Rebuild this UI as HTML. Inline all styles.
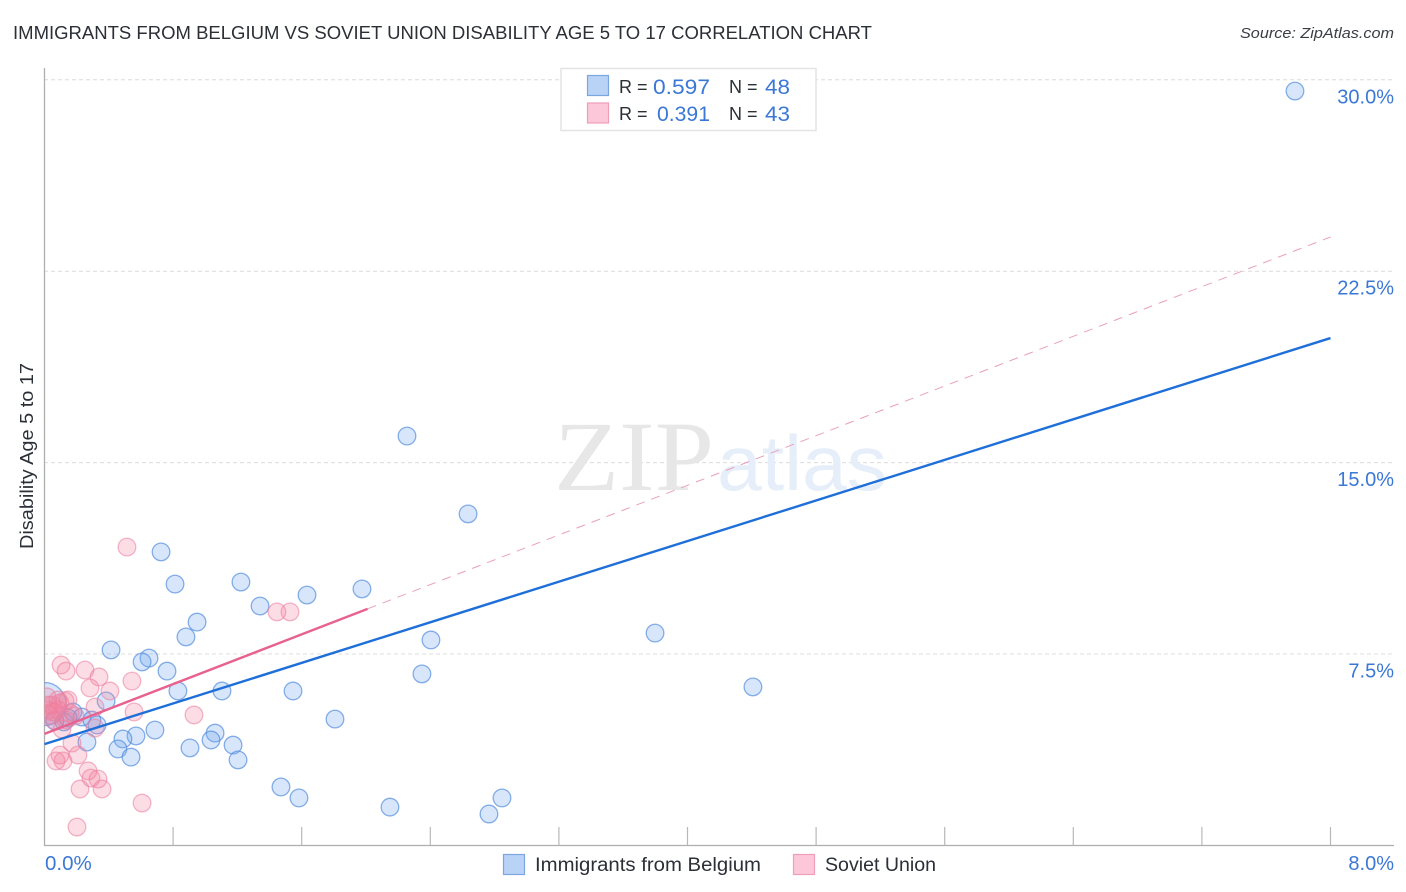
<!DOCTYPE html>
<html lang="en">
<head>
<meta charset="utf-8">
<title>Immigrants from Belgium vs Soviet Union Disability Age 5 to 17 Correlation Chart</title>
<style>
html,body{margin:0;padding:0;background:#fff;width:1406px;height:892px;overflow:hidden}
svg{display:block}
text{font-family:"Liberation Sans",sans-serif}
.blue{fill:#3b78d6}
.dark{fill:#2b2f36}
</style>
</head>
<body>
<svg id="chart" xmlns="http://www.w3.org/2000/svg" width="1406" height="892" viewBox="0 0 1406 892">
  <defs>
    <clipPath id="plot-clip"><rect x="44.5" y="60" width="1350" height="786"/></clipPath>
  </defs>
  <rect width="1406" height="892" fill="#fff"/>
  <text class="dark" x="13" y="39" font-size="18.5" textLength="859" lengthAdjust="spacingAndGlyphs">IMMIGRANTS FROM BELGIUM VS SOVIET UNION DISABILITY AGE 5 TO 17 CORRELATION CHART</text>
  <text x="1394" y="38" font-size="15" font-style="italic" text-anchor="end" fill="#3a3e45" textLength="154" lengthAdjust="spacingAndGlyphs">Source: ZipAtlas.com</text>

  <g id="grid"></g>

  <g>
    <text x="554" y="490" font-size="100" textLength="160" lengthAdjust="spacingAndGlyphs" style="font-family:'Liberation Serif',serif" fill="#e7e7e7">ZIP</text>
    <text x="717" y="490" font-size="78" textLength="170" lengthAdjust="spacingAndGlyphs" fill="#e6eefa">atlas</text>
  </g>

  <g id="axes"></g>
  <g id="blue-points" clip-path="url(#plot-clip)"></g>
  <g id="pink-points" clip-path="url(#plot-clip)"></g>
  <g id="trends"></g>
  <g id="tick-labels"></g>

  <text class="dark" transform="translate(33,549) rotate(-90)" font-size="18" textLength="186" lengthAdjust="spacingAndGlyphs">Disability Age 5 to 17</text>

  <g>
    <rect x="561" y="68.5" width="255" height="62" fill="#fff" stroke="#e4e4e4" stroke-width="1.5"/>
    <rect x="587.5" y="75.5" width="21" height="20" fill="#b9d3f7" stroke="#7ba6e0" stroke-width="1.2"/>
    <rect x="587.5" y="103" width="21" height="20" fill="#fcc8d9" stroke="#f09db8" stroke-width="1.2"/>
    <text class="dark" x="619" y="93" font-size="18">R =</text>
    <text class="blue" x="653" y="94" font-size="21" textLength="57" lengthAdjust="spacingAndGlyphs">0.597</text>
    <text class="dark" x="729" y="93" font-size="18">N =</text>
    <text class="blue" x="765" y="94" font-size="21" textLength="25" lengthAdjust="spacingAndGlyphs">48</text>
    <text class="dark" x="619" y="120" font-size="18">R =</text>
    <text class="blue" x="657" y="121" font-size="21" textLength="53" lengthAdjust="spacingAndGlyphs">0.391</text>
    <text class="dark" x="729" y="120" font-size="18">N =</text>
    <text class="blue" x="765" y="121" font-size="21" textLength="25" lengthAdjust="spacingAndGlyphs">43</text>
  </g>

  <g>
    <rect x="503.5" y="854.5" width="21" height="20" fill="#b9d3f7" stroke="#7ba6e0" stroke-width="1.2"/>
    <text class="dark" x="535" y="871" font-size="19" textLength="226" lengthAdjust="spacingAndGlyphs">Immigrants from Belgium</text>
    <rect x="793.5" y="854.5" width="21" height="20" fill="#fcc8d9" stroke="#f09db8" stroke-width="1.2"/>
    <text class="dark" x="825" y="871" font-size="19" textLength="111" lengthAdjust="spacingAndGlyphs">Soviet Union</text>
  </g>
</svg>
<script>
const yTicks = [7.5, 15, 22.5, 30];
const yTickLabels = ["7.5%", "15.0%", "22.5%", "30.0%"];
const xTicks = [0, 0.8, 1.6, 2.4, 3.2, 4, 4.8, 5.6, 6.4, 7.2, 8];
const xEndLabels = ["0.0%", "8.0%"];

const belgiumX = [7.779,2.255,2.635,0.725,0.812,1.222,1.341,1.633,1.975,0.949,0.880,0.414,0.650,0.607,0.762,2.404,2.348,3.798,4.407,0.830,1.104,1.546,0.383,1.807,0.687,0.569,0.488,1.061,1.036,0.327,0.457,0.905,1.173,0.538,1.204,0.264,1.471,1.583,2.149,2.846,2.765,0.177,0.233,0.295,0.121,0.065,0.146,0.0];
const belgiumY = [29.56,16.04,12.99,11.50,10.24,10.32,9.38,9.81,10.05,8.75,8.17,7.66,7.34,7.19,6.83,8.05,6.72,8.32,6.21,6.05,6.05,6.05,5.66,4.95,4.52,4.29,4.17,4.40,4.13,4.72,3.78,3.82,3.93,3.46,3.35,4.05,2.29,1.86,1.50,1.86,1.23,5.23,5.03,4.91,4.84,4.87,4.99,5.54];
const belgiumWeight = [1,1,1,1,1,1,1,1,1,1,1,1,1,1,1,1,1,1,1,1,1,1,1,1,1,1,1,1,1,1,1,1,1,1,1,1,1,1,1,1,1,1,1,1,1,1,1,6];

const sovietX = [0.513,1.446,1.527,0.103,0.134,0.252,0.339,0.283,0.407,0.544,0.314,0.557,0.930,0.171,0.096,0.208,0.072,0.115,0.271,0.289,0.333,0.221,0.358,0.607,0.202,0.016,0.022,0.034,0.047,0.065,0.084,0.096,0.128,0.146,0.059,0.109,0.159,0.190,0.314,0.022,0.047,0.084,0.134];
const sovietY = [11.69,9.15,9.15,7.07,6.83,6.87,6.60,6.17,6.05,6.44,5.42,5.23,5.11,4.01,3.54,3.54,3.31,3.31,2.92,2.64,2.60,2.21,2.21,1.66,0.72,5.82,5.31,5.11,5.50,5.23,5.70,5.58,5.66,5.70,4.91,4.56,5.19,5.07,4.60,5.50,5.23,5.31,4.91];

const belgiumTrendX = [0, 8];
const belgiumTrendY = [3.97, 19.88];
const sovietTrendX = [0, 2.01];
const sovietTrendY = [4.37, 9.27];
const sovietExtendX = [2.01, 8];
const sovietExtendY = [9.27, 23.84];

const NS = 'http://www.w3.org/2000/svg';
const sx = v => 44.5 + v * 160.75;
const sy = v => 845.4 - v * 25.52;
const mk = (parent, tag, props) => {
  const el = document.createElementNS(NS, tag);
  for (const k in props) el.setAttribute(k, props[k]);
  parent.appendChild(el);
  return el;
};

const grid = document.getElementById('grid');
yTicks.forEach(v => {
  const l = mk(grid, 'line', {x1: 44, x2: 1393, y1: sy(v), y2: sy(v), stroke: '#dcdcdc', 'stroke-width': 1, 'stroke-dasharray': '4 3'});
  
  
});

const axes = document.getElementById('axes');
const yAxis = mk(axes, 'line', {x1: 44.5, x2: 44.5, y1: 68, y2: 846, stroke: '#aeaeae', 'stroke-width': 1.3});


const xAxis = mk(axes, 'line', {x1: 44, x2: 1394, y1: 845.5, y2: 845.5, stroke: '#aeaeae', 'stroke-width': 1.3});


xTicks.slice(1).forEach(v => {
  const t = mk(axes, 'line', {x1: sx(v), x2: sx(v), y1: 827, y2: 845, stroke: '#b8b8b8', 'stroke-width': 1.2});
  
  
});

const plotPoints = (gid, xs, ys, weights, fill, stroke, fillOp, strokeOp, name) => {
  const g = document.getElementById(gid);
  xs.forEach((x, i) => {
    const w = weights ? weights[i] : 1;
    const c = mk(g, 'circle', {cx: sx(x), cy: sy(ys[i]), r: 8.8 * Math.sqrt(w), fill: fill, 'fill-opacity': fillOp, stroke: stroke, 'stroke-opacity': strokeOp, 'stroke-width': 1.3});
    
    
  });
};
plotPoints('blue-points', belgiumX, belgiumY, belgiumWeight, '#6ea6f0', '#4f8bdc', 0.28, 0.68, 'belgium-point');
plotPoints('pink-points', sovietX, sovietY, null, '#f3819f', '#ec7fa0', 0.27, 0.58, 'soviet-union-point');

const trends = document.getElementById('trends');
const dashTrend = mk(trends, 'line', {x1: sx(sovietExtendX[0]), y1: sy(sovietExtendY[0]), x2: sx(sovietExtendX[1]), y2: sy(sovietExtendY[1]), stroke: '#eaa0b8', 'stroke-width': 1, 'stroke-dasharray': '9 7'});


const pinkTrend = mk(trends, 'line', {x1: sx(sovietTrendX[0]), y1: sy(sovietTrendY[0]), x2: sx(sovietTrendX[1]), y2: sy(sovietTrendY[1]), stroke: '#e8628f', 'stroke-width': 2.4});


const blueTrend = mk(trends, 'line', {x1: sx(belgiumTrendX[0]), y1: sy(belgiumTrendY[0]), x2: sx(belgiumTrendX[1]), y2: sy(belgiumTrendY[1]), stroke: '#1f6fd8', 'stroke-width': 2.4});



const labels = document.getElementById('tick-labels');
yTicks.forEach((v, i) => {
  const t = mk(labels, 'text', {x: 1394, y: sy(v) + 23.5, 'font-size': 20, 'text-anchor': 'end', class: 'blue'});
  t.textContent = yTickLabels[i];
  
  
});
const x0 = mk(labels, 'text', {x: 45, y: 870, 'font-size': 20.5, class: 'blue'});
x0.textContent = xEndLabels[0];


const x1 = mk(labels, 'text', {x: 1394, y: 870, 'font-size': 20, 'text-anchor': 'end', class: 'blue'});
x1.textContent = xEndLabels[1];


</script>
</body>
</html>
